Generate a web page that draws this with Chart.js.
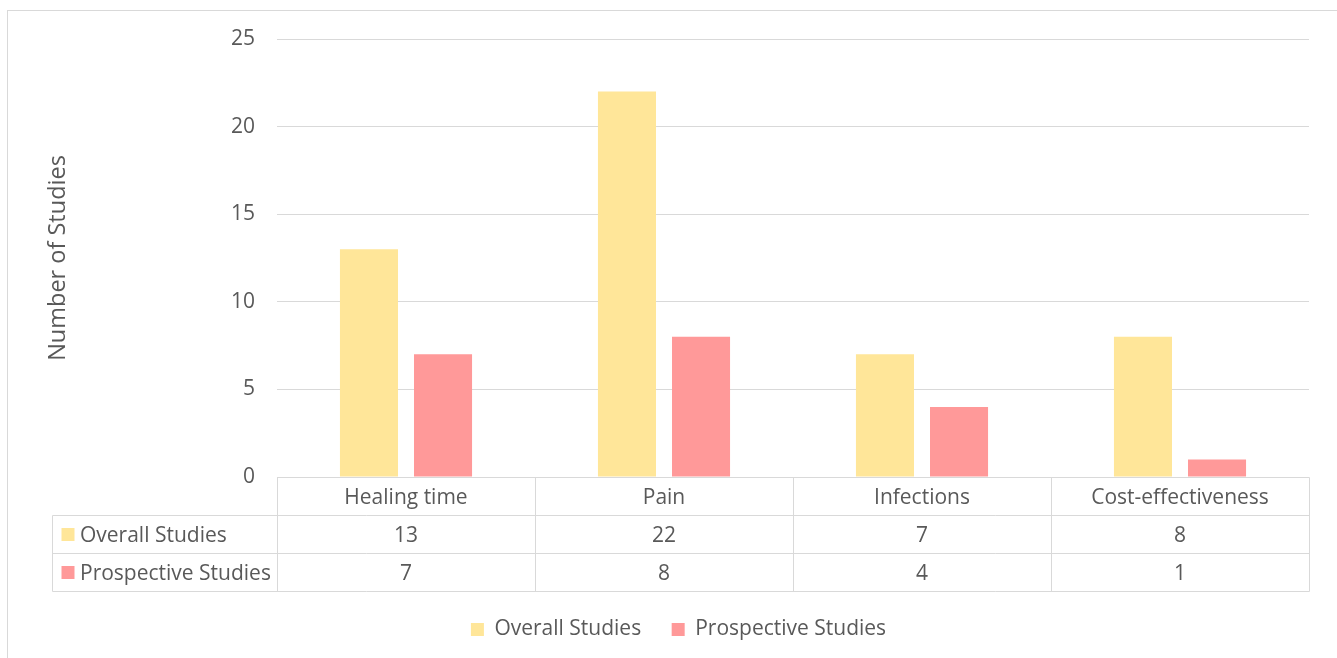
<!DOCTYPE html>
<html>
<head>
<meta charset="utf-8">
<title>Number of Studies by Outcome</title>
<script src="https://cdn.jsdelivr.net/npm/chart.js@4/dist/chart.umd.min.js"></script>
<style>
  html, body { margin: 0; padding: 0; background: #ffffff; }
  #wrap { position: relative; width: 1337px; height: 658px; }
</style>
</head>
<body>
<div id="wrap"><canvas id="chart"></canvas></div>
<script>
// Outcome categories and study counts per series
const categories = ['Healing time', 'Pain', 'Infections', 'Cost-effectiveness'];
const overallStudies = [13, 22, 7, 8];
const prospectiveStudies = [7, 8, 4, 1];
const seriesNames = ['Overall Studies', 'Prospective Studies'];

// Visual style
const FONT = '"Open Sans", "Liberation Sans", sans-serif';
const FONT_SIZE = 21;
const TITLE_SIZE = 23.5;
const TEXT_COLOR = '#595959';
const LINE_COLOR = '#D9D9D9';
const COLORS = ['#FFE699', '#FF9999'];
const TABLE_ROW_H = 38;
const TABLE_LABEL_LEFT = 52;
const TABLE_TEXT_DY = 1.5;
const LEGEND_SHIFT = 14;

// Data table drawn under the plot, aligned with the category scale
const dataTablePlugin = {
  id: 'dataTable',
  afterLayout(chart) {
    // nudge the legend row slightly to the right of the canvas centre
    if (chart.legend) {
      chart.legend.left += LEGEND_SHIFT;
      chart.legend.right += LEGEND_SHIFT;
    }
  },
  beforeDraw(chart) {
    const ctx = chart.ctx;
    ctx.save();
    ctx.strokeStyle = LINE_COLOR;
    ctx.lineWidth = 1;
    ctx.strokeRect(7.5, 10.5, chart.width + 10, chart.height + 10);
    ctx.restore();
  },
  afterDraw(chart) {
    const ctx = chart.ctx;
    const xs = chart.scales.x;
    const area = chart.chartArea;
    const labels = chart.data.labels;
    const sets = chart.data.datasets;
    const step = xs.getPixelForValue(1) - xs.getPixelForValue(0);
    const top = Math.round(area.bottom) + 0.5;
    const rows = sets.length + 1;
    const bottom = top + TABLE_ROW_H * rows;
    const left = Math.round(area.left) + 0.5;
    const right = Math.round(area.right) + 0.5;
    const labelLeft = TABLE_LABEL_LEFT + 0.5;

    ctx.save();
    ctx.strokeStyle = LINE_COLOR;
    ctx.lineWidth = 1;
    ctx.beginPath();
    // header top line (category row)
    ctx.moveTo(left, top); ctx.lineTo(right, top);
    // series rows
    for (let r = 1; r <= rows; r++) {
      const y = top + TABLE_ROW_H * r;
      ctx.moveTo(labelLeft, y); ctx.lineTo(right, y);
    }
    // vertical separators
    for (let i = 0; i <= labels.length; i++) {
      const x = Math.round(xs.getPixelForValue(0) - step / 2 + step * i) + 0.5;
      ctx.moveTo(x, top); ctx.lineTo(x, bottom);
    }
    ctx.moveTo(labelLeft, top + TABLE_ROW_H); ctx.lineTo(labelLeft, bottom);
    ctx.stroke();

    ctx.font = FONT_SIZE + 'px ' + FONT;
    ctx.fillStyle = TEXT_COLOR;
    ctx.textBaseline = 'middle';
    ctx.textAlign = 'center';
    labels.forEach((lab, i) => {
      ctx.fillText(lab, xs.getPixelForValue(i), top + TABLE_ROW_H / 2 + TABLE_TEXT_DY);
    });
    sets.forEach((ds, r) => {
      const cy = top + TABLE_ROW_H * (r + 1.5);
      ctx.textAlign = 'center';
      ctx.fillStyle = TEXT_COLOR;
      ds.data.forEach((v, i) => {
        ctx.fillText(String(v), xs.getPixelForValue(i), cy + TABLE_TEXT_DY);
      });
      ctx.fillStyle = ds.backgroundColor;
      ctx.fillRect(labelLeft + 9, Math.round(cy - 6.5), 13, 13);
      ctx.fillStyle = TEXT_COLOR;
      ctx.textAlign = 'left';
      ctx.fillText(ds.label, labelLeft + 27.5, cy + TABLE_TEXT_DY);
    });
    ctx.restore();
  }
};

new Chart(document.getElementById('chart'), {
  type: 'bar',
  data: {
    labels: categories,
    datasets: [
      { label: seriesNames[0], data: overallStudies, backgroundColor: COLORS[0] },
      { label: seriesNames[1], data: prospectiveStudies, backgroundColor: COLORS[1] }
    ]
  },
  options: {
    responsive: true,
    maintainAspectRatio: false,
    animation: false,
    categoryPercentage: 0.574,
    barPercentage: 0.784,
    layout: { padding: { left: 20, right: 28, top: 39, bottom: 8 } },
    plugins: {
      tooltip: { enabled: false },
      legend: {
        position: 'bottom',
        labels: {
          boxWidth: 13,
          boxHeight: 13,
          padding: 30.5,
          color: TEXT_COLOR,
          font: { family: FONT, size: FONT_SIZE }
        }
      }
    },
    scales: {
      x: {
        grid: { display: false },
        border: { display: false },
        ticks: { display: false },
        afterFit(scale) { scale.height = 111.5; }
      },
      y: {
        min: 0,
        max: 25,
        ticks: {
          stepSize: 5,
          padding: 22,
          color: TEXT_COLOR,
          font: { family: FONT, size: FONT_SIZE }
        },
        grid: { color: LINE_COLOR, lineWidth: 1, drawTicks: false },
        border: { display: false },
        title: {
          display: true,
          text: 'Number of Studies',
          color: TEXT_COLOR,
          font: { family: FONT, size: TITLE_SIZE },
          padding: { top: 24, bottom: 0 }
        },
        afterFit(scale) { scale.width = 257; }
      }
    }
  },
  plugins: [dataTablePlugin]
});
</script>
</body>
</html>
